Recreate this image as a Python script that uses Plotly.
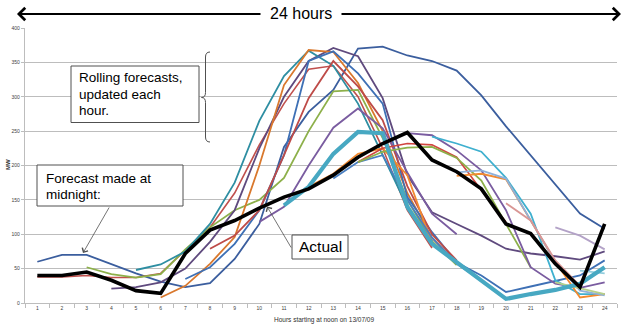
import plotly.graph_objects as go

hours = list(range(1, 25))
tick_labels = [str(h) for h in hours]
y_ticks = list(range(0, 401, 50))

# Actual output (MW), hours 1..24
actual = [40, 40, 45, 33, 18, 14, 72, 106, 120, 138, 154, 166, 186, 212, 232, 248,
          208, 191, 166, 115, 101, 57, 23, 115]

# Rolling forecasts: (first hour, values)
fc_midnight_start = 1
fc_midnight = [60, 70, 70, 56, 43, 31, 23, 29, 64, 115, 227, 278, 310, 370, 373, 360,
               352, 338, 302, 257, 215, 172, 130, 108]
fc_red1_start = 1
fc_red1 = [38, 38, 40, 37, 37, 43, 77, 110, 160, 230, 290, 340, 345, 300, 225, 135, 80]
fc_green3_start = 3
fc_green3 = [52, 42, 37, 42, 78, 110, 135, 150, 182, 250, 308, 310, 240, 150, 90, 55]
fc_purple4_start = 4
fc_purple4 = [21, 23, 30, 50, 89, 135, 225, 300, 352, 371, 359, 298, 186, 132, 115, 98,
              79, 72, 68, 63, 75]
fc_teal5_start = 5
fc_teal5 = [48, 56, 75, 115, 175, 265, 330, 367, 345, 290, 215, 140, 90]
fc_orange6_start = 6
fc_orange6 = [8, 25, 57, 96, 200, 317, 368, 365, 320, 250, 160, 95, 58]
fc_blue7_start = 7
fc_blue7 = [35, 52, 86, 135, 215, 352, 366, 334, 290, 154, 103, 59, 40, 16, 24, 32, 40, 62]
fc_red8_start = 8
fc_red8 = [79, 98, 135, 215, 298, 352, 315, 266, 170, 100, 62]
fc_purple10_start = 10
fc_purple10 = [118, 140, 200, 255, 283, 254, 190, 130, 100]
fc_teal11_start = 11
fc_teal11 = [142, 169, 217, 249, 247, 140, 86, 59, 32, 6, 13, 19, 28, 52]
fc_orange12_start = 12
fc_orange12 = [169, 188, 217, 225, 186, 86, 59]
fc_blue13_start = 13
fc_blue13 = [181, 205, 215, 150, 95, 57, 33]
fc_red14_start = 14
fc_red14 = [205, 225, 232, 230, 212, 164, 118]
fc_green14_start = 14
fc_green14 = [205, 220, 226, 227, 211, 178, 115, 52]
fc_purple16_start = 16
fc_purple16 = [247, 244, 222, 193, 135, 52, 28, 22, 30]
fc_cyan17_start = 17
fc_cyan17 = [242, 232, 220, 182, 130, 33, 13, 13]
fc_orange18_start = 18
fc_orange18 = [185, 188, 180, 120, 60, 8, 13]
fc_ltblue18_start = 18
fc_ltblue18 = [190, 193, 181, 120, 60, 18, 11]
fc_pink20_start = 20
fc_pink20 = [145, 120, 62, 25]
fc_ltgreen22_start = 22
fc_ltgreen22 = [30, 22, 13]
fc_ltpurple22_start = 22
fc_ltpurple22 = [110, 98, 78]
fc_ltteal23_start = 23
fc_ltteal23 = [47, 43]

series = [
    (fc_midnight_start, fc_midnight, "#3B5E9E", 1.8),
    (fc_red1_start, fc_red1, "#C0504D", 1.6),
    (fc_green3_start, fc_green3, "#8DB04A", 1.8),
    (fc_purple4_start, fc_purple4, "#5F4A7E", 1.8),
    (fc_teal5_start, fc_teal5, "#2E8EA2", 1.8),
    (fc_orange6_start, fc_orange6, "#D9782D", 1.8),
    (fc_blue7_start, fc_blue7, "#3E70B5", 1.8),
    (fc_red8_start, fc_red8, "#BE4B48", 1.8),
    (fc_purple10_start, fc_purple10, "#7A5CA0", 1.8),
    (fc_orange12_start, fc_orange12, "#F28A30", 1.8),
    (fc_blue13_start, fc_blue13, "#4A7FC1", 1.8),
    (fc_red14_start, fc_red14, "#D0453F", 1.6),
    (fc_green14_start, fc_green14, "#8DB04A", 1.8),
    (fc_purple16_start, fc_purple16, "#7A5CA0", 1.8),
    (fc_cyan17_start, fc_cyan17, "#3FB0CF", 1.8),
    (fc_orange18_start, fc_orange18, "#F28A30", 1.8),
    (fc_ltblue18_start, fc_ltblue18, "#8FB1DA", 1.8),
    (fc_pink20_start, fc_pink20, "#D99694", 1.8),
    (fc_ltgreen22_start, fc_ltgreen22, "#B7D08A", 1.8),
    (fc_ltpurple22_start, fc_ltpurple22, "#B3A2C7", 1.8),
    (fc_ltteal23_start, fc_ltteal23, "#93CDDD", 1.8),
    (fc_teal11_start, fc_teal11, "#47A8C2", 4.2),
]

fig = go.Figure()
for start, vals, col, w in series:
    fig.add_trace(go.Scatter(x=list(range(start, start + len(vals))), y=vals, mode="lines",
                             line=dict(color=col, width=w), showlegend=False,
                             hoverinfo="skip"))
fig.add_trace(go.Scatter(x=hours, y=actual, mode="lines",
                         line=dict(color="#000000", width=3.6), showlegend=False))

PL, PR, PT, PB = 25, 617, 28, 303
W, H = 625, 328


def pxx(p):
    return (p - PL) / (PR - PL)


def pxy(p):
    return (PB - p) / (PB - PT)


grid = "#BDBDBD"
fig.update_layout(
    width=W, height=H, template="none",
    margin=dict(l=PL, r=W - PR, t=PT, b=H - PB, autoexpand=False),
    paper_bgcolor="white", plot_bgcolor="white",
    font=dict(family="Liberation Sans, Arial, sans-serif", color="#404040"),
    xaxis=dict(range=[0.5, 24.5], tickmode="array", tickvals=hours, ticktext=tick_labels,
               ticks="", tickfont=dict(size=5, color="#404040"), showgrid=False,
               showline=True, linecolor=grid, linewidth=1.2, zeroline=False,
               minor=dict(tickmode="array", tickvals=[h + 0.5 for h in range(0, 25)],
                          ticks="outside", ticklen=4, tickcolor=grid, showgrid=False),
               automargin=False),
    yaxis=dict(range=[0, 400], tickmode="array", tickvals=y_ticks,
               ticks="outside", ticklen=3, tickcolor=grid,
               tickfont=dict(size=5, color="#404040"), showgrid=True, gridcolor=grid,
               gridwidth=1.4, showline=True, linecolor=grid, linewidth=1.2,
               zeroline=False, automargin=False),
)

shapes = []
# text boxes
for x0, y0, x1, y1 in [(71, 66, 199, 122.5), (37, 165, 183, 206), (292, 235, 348, 259)]:
    shapes.append(dict(type="rect", xref="paper", yref="paper",
                       x0=pxx(x0), x1=pxx(x1), y0=pxy(y1), y1=pxy(y0),
                       line=dict(color="#505050", width=1), fillcolor="white",
                       layer="above"))
# curly brace
bx_r, bx_m, bx_l = 210, 205.5, 201.5
by_t, by_tip, by_b = 52, 97.5, 142
path = (f"M {pxx(bx_r)},{pxy(by_t)} Q {pxx(bx_m)},{pxy(by_t)} {pxx(bx_m)},{pxy(by_t + 5)} "
        f"L {pxx(bx_m)},{pxy(by_tip - 5)} Q {pxx(bx_m)},{pxy(by_tip)} {pxx(bx_l)},{pxy(by_tip)} "
        f"Q {pxx(bx_m)},{pxy(by_tip)} {pxx(bx_m)},{pxy(by_tip + 5)} "
        f"L {pxx(bx_m)},{pxy(by_b - 5)} Q {pxx(bx_m)},{pxy(by_b)} {pxx(bx_r)},{pxy(by_b)}")
shapes.append(dict(type="path", xref="paper", yref="paper", path=path,
                   line=dict(color="#505050", width=1)))
fig.update_layout(shapes=shapes)

ann = []
txt_font = dict(family="Liberation Sans, Arial, sans-serif", size=13.5, color="#000000")
for t, x, y in [("Rolling forecasts,", 77, 78), ("updated each", 77, 94.5), ("hour.", 77, 111),
                ("Forecast made at", 44, 178.5), ("midnight:", 44, 194.5)]:
    ann.append(dict(text=t, x=pxx(x), y=pxy(y), xref="paper", yref="paper",
                    xanchor="left", yanchor="middle", showarrow=False, font=txt_font))
ann.append(dict(text="Actual", x=pxx(320), y=pxy(246.5), xref="paper", yref="paper",
                xanchor="center", yanchor="middle", showarrow=False,
                font=dict(family="Liberation Sans, Arial, sans-serif", size=15.5,
                          color="#000000")))
# pointer arrows
for tipx, tipy, tailx, taily in [(83, 253, 110, 206), (267, 206.5, 292, 249)]:
    ann.append(dict(text="", x=pxx(tipx), y=pxy(tipy), xref="paper", yref="paper",
                    ax=tailx - tipx, ay=taily - tipy, showarrow=True, arrowhead=4,
                    arrowsize=1.6, arrowwidth=0.8, arrowcolor="#505050", standoff=0))
# 24 hours double arrow
ann.append(dict(text="24 hours", x=pxx(301), y=pxy(14), xref="paper", yref="paper",
                showarrow=False, xanchor="center", yanchor="middle",
                font=dict(family="Liberation Sans, Arial, sans-serif", size=16,
                          color="#000000")))
for tipx, tailx in [(17, 262), (621, 340)]:
    ann.append(dict(text="", x=pxx(tipx), y=pxy(14), xref="paper", yref="paper",
                    ax=tailx - tipx, ay=0, showarrow=True, arrowhead=4, arrowsize=1.1,
                    arrowwidth=2.2, arrowcolor="#000000", standoff=0))
# axis titles
ann.append(dict(text="Hours starting at noon on 13/07/09", x=pxx(324), y=pxy(319.5),
                xref="paper", yref="paper", showarrow=False, xanchor="center",
                yanchor="middle", font=dict(size=6.5, color="#303030")))
ann.append(dict(text="<b>MW</b>", x=pxx(8), y=pxy(165), xref="paper", yref="paper",
                showarrow=False, textangle=-90, xanchor="center", yanchor="middle",
                font=dict(size=6, color="#303030")))
fig.update_layout(annotations=ann)

fig.write_html("out.html")
